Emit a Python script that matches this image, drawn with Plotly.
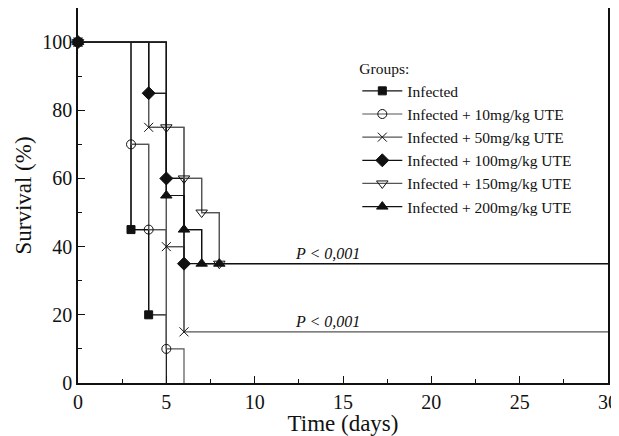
import plotly.graph_objects as go

# Survival step curves (time in days, survival in %)
groups = ["Infected", "Infected + 10mg/kg UTE", "Infected + 50mg/kg UTE",
          "Infected + 100mg/kg UTE", "Infected + 150mg/kg UTE", "Infected + 200mg/kg UTE"]

# full curve points (step, hv)
infected_t = [0, 3, 4, 5]
infected_s = [100, 45, 20, 0]
ute10_t = [0, 3, 4, 5, 6]
ute10_s = [100, 70, 45, 10, 0]
ute50_t = [0, 4, 5, 6, 30]
ute50_s = [100, 75, 40, 15, 15]
ute100_t = [0, 4, 5, 6, 30]
ute100_s = [100, 85, 60, 35, 35]
ute150_t = [0, 5, 6, 7, 8, 30]
ute150_s = [100, 75, 60, 50, 35, 35]
ute200_t = [0, 5, 6, 7, 8, 30]
ute200_s = [100, 55, 45, 35, 35, 35]

# number of leading points that carry a marker
marked = [3, 4, 4, 4, 5, 5]

curves = [(infected_t, infected_s), (ute10_t, ute10_s), (ute50_t, ute50_s),
          (ute100_t, ute100_s), (ute150_t, ute150_s), (ute200_t, ute200_s)]
symbols = ["square", "circle-open", "x-thin-open", "diamond", "triangle-down-open", "triangle-up"]
sizes = [8, 9, 9, 10, 10, 10]
colors = ["#111111", "#555555", "#555555", "#111111", "#555555", "#111111"]

x_ticks = [0, 5, 10, 15, 20, 25, 30]
y_ticks = [0, 20, 40, 60, 80, 100]
p_label = "P < 0,001"
p_levels = [35, 15]

FONT = "Liberation Serif"

fig = go.Figure()
for i, (name, (t, s)) in enumerate(zip(groups, curves)):
    fig.add_trace(go.Scatter(
        x=t, y=s, mode="lines", line=dict(shape="hv", color=colors[i], width=1.2),
        showlegend=False, hoverinfo="skip", legendgroup=name))
for i, (name, (t, s)) in enumerate(zip(groups, curves)):
    n = marked[i]
    fig.add_trace(go.Scatter(
        x=t[:n], y=s[:n], mode="lines+markers", name=name, legendgroup=name,
        line=dict(shape="hv", color=colors[i], width=1.2),
        marker=dict(symbol=symbols[i], size=sizes[i], color="#111111",
                    line=dict(color="#111111", width=1)),
        cliponaxis=False))

for lvl in p_levels:
    fig.add_annotation(x=14.1, y=lvl, text="<i>" + p_label + "</i>", showarrow=False,
                       yanchor="bottom", yshift=0, font=dict(family=FONT, size=16, color="#111"))

axis_common = dict(showgrid=False, zeroline=False, showline=True, linecolor="#111",
                   linewidth=1.5, mirror=True, ticks="inside", ticklen=7, tickwidth=1.2,
                   tickcolor="#111", tickfont=dict(family=FONT, size=20, color="#111"),
                   ticklabeloverflow="allow")
fig.update_xaxes(range=[0, 30], tickvals=x_ticks, title=dict(text="Time (days)", standoff=2,
                 font=dict(family=FONT, size=23, color="#111")),
                 minor=dict(ticks="inside", ticklen=4, dtick=2.5, tick0=0, tickcolor="#111"),
                 **axis_common)
fig.update_yaxes(range=[0, 110], tickvals=y_ticks, title=dict(text="Survival (%)", standoff=4,
                 font=dict(family=FONT, size=23, color="#111")),
                 minor=dict(ticks="inside", ticklen=4, dtick=10, tick0=0, tickcolor="#111"),
                 **axis_common)

# page body has an 8px margin, so the figure is 8px smaller and offset
fig.update_layout(
    width=611, height=428, margin=dict(l=70, r=11, t=0, b=53, autoexpand=False),
    plot_bgcolor="white", paper_bgcolor="white",
    font=dict(family=FONT, color="#111"),
    legend=dict(x=0.527, y=0.877, xanchor="left", yanchor="top", bgcolor="rgba(0,0,0,0)",
                title=dict(text="Groups:", font=dict(family=FONT, size=15.5)),
                font=dict(family=FONT, size=15.5), tracegroupgap=0, itemwidth=40),
)
fig.write_html("out.html")
